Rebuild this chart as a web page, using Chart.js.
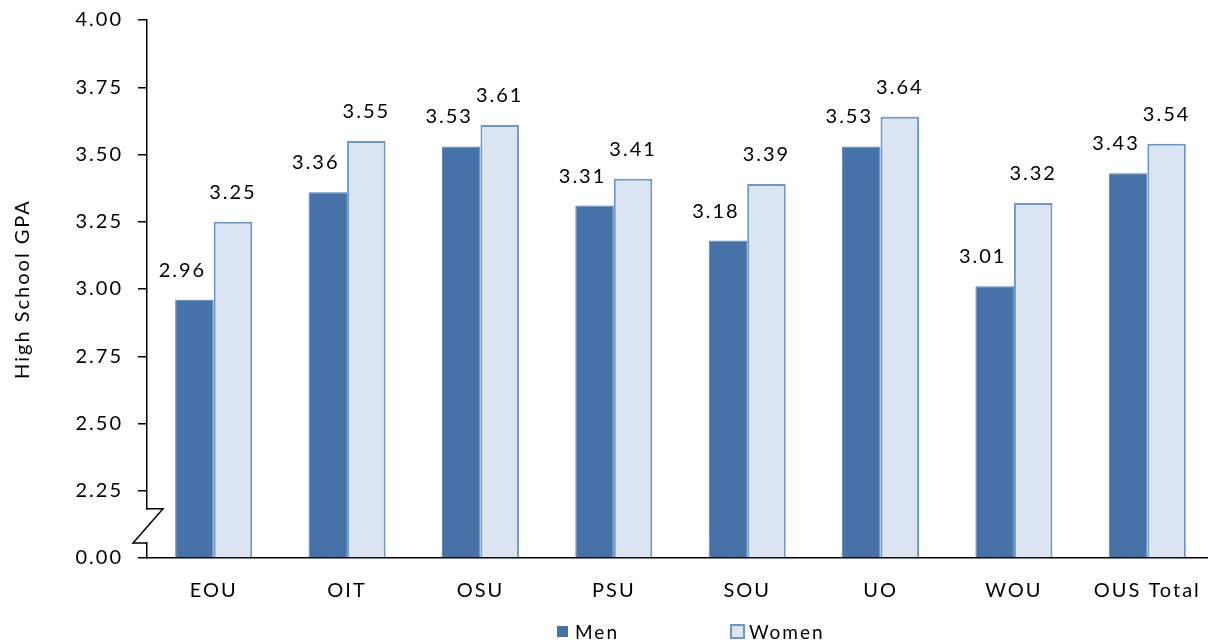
<!DOCTYPE html>
<html lang="en">
<head>
<meta charset="UTF-8">
<title>High School GPA by Institution</title>
<script src="https://cdn.jsdelivr.net/npm/chart.js@4.4.1/dist/chart.umd.min.js"></script>
<style>
	body { margin: 0; overflow: hidden; background: #fff; }
	#wrap { position: relative; width: 1214px; height: 643px; }
</style>
</head>
<body>
<div id="wrap"><canvas id="gpaChart"></canvas></div>
<script>
	// chart data
	var schools = ["EOU", "OIT", "OSU", "PSU", "SOU", "UO", "WOU", "OUS Total"];
	var menGPA = [2.96, 3.36, 3.53, 3.31, 3.18, 3.53, 3.01, 3.43];
	var womenGPA = [3.25, 3.55, 3.61, 3.41, 3.39, 3.64, 3.32, 3.54];
	// axis is broken: the bottom tick stands for 0.00
	var yTickLabels = ["0.00", "2.25", "2.50", "2.75", "3.00", "3.25", "3.50", "3.75", "4.00"];
	var seriesNames = ["Men", "Women"];

	var FONT = "Lato";
	var MEN_FILL = "#4672a8";
	var WOMEN_FILL = "#dbe5f1";
	var WOMEN_EDGE = "#6d97c9";

	// canvas letter spacing, to get the wide look of the original text
	var spacingPlugin = {
		id: "spacing",
		beforeUpdate: function (chart) { chart.ctx.letterSpacing = "2px"; },
		beforeDraw: function (chart) { chart.ctx.letterSpacing = "2px"; }
	};

	var valueLabels = {
		id: "valueLabels",
		afterDatasetsDraw: function (chart) {
			var ctx = chart.ctx;
			ctx.save();
			ctx.font = "20px " + FONT;
			ctx.fillStyle = "#000";
			ctx.textAlign = "center";
			ctx.textBaseline = "alphabetic";
			chart.data.datasets.forEach(function (ds, di) {
				var meta = chart.getDatasetMeta(di);
				meta.data.forEach(function (bar, i) {
					var shift = di == 0 ? -12 : 0;
					ctx.fillText(ds.data[i].toFixed(2), bar.x + shift, bar.y - 23);
				});
			});
			ctx.restore();
		}
	};

	var axisBreak = {
		id: "axisBreak",
		afterDraw: function (chart) {
			var ctx = chart.ctx;
			var y = chart.scales.y;
			var x0 = chart.chartArea.left;
			var yTop = y.getPixelForValue(2.183);
			var yBot = y.getPixelForValue(2.056);
			ctx.save();
			ctx.fillStyle = "#fff";
			ctx.fillRect(x0 - 3, yTop + 1, 6, yBot - yTop - 2);
			ctx.strokeStyle = "#000";
			ctx.lineWidth = 1.5;
			ctx.beginPath();
			ctx.moveTo(x0, yTop);
			ctx.lineTo(x0 + 16, yTop);
			ctx.lineTo(x0 - 14, yBot);
			ctx.lineTo(x0, yBot);
			ctx.stroke();
			ctx.restore();
		}
	};

	var bottomLegend = {
		id: "bottomLegend",
		afterDraw: function (chart) {
			var ctx = chart.ctx;
			ctx.save();
			ctx.font = "19px " + FONT;
			ctx.textBaseline = "alphabetic";
			// Men
			ctx.fillStyle = MEN_FILL;
			ctx.fillRect(557, 626, 11, 11);
			ctx.fillStyle = "#000";
			ctx.fillText(seriesNames[0], 575, 639);
			// Women
			ctx.fillStyle = WOMEN_FILL;
			ctx.fillRect(731, 625, 13, 13);
			ctx.strokeStyle = WOMEN_EDGE;
			ctx.lineWidth = 2;
			ctx.strokeRect(731, 625, 13, 13);
			ctx.fillStyle = "#000";
			ctx.fillText(seriesNames[1], 749, 639);
			ctx.restore();
		}
	};

	new Chart(document.getElementById("gpaChart"), {
		type: "bar",
		data: {
			labels: schools,
			datasets: [
				{
					label: seriesNames[0],
					data: menGPA,
					base: 2,
					backgroundColor: MEN_FILL,
					borderColor: "#4f7fb9",
					borderWidth: 1,
					categoryPercentage: 0.5775,
					barPercentage: 1.0
				},
				{
					label: seriesNames[1],
					data: womenGPA,
					base: 2,
					backgroundColor: WOMEN_FILL,
					borderColor: WOMEN_EDGE,
					borderWidth: 2,
					categoryPercentage: 0.5775,
					barPercentage: 1.0
				}
			]
		},
		options: {
			responsive: true,
			maintainAspectRatio: false,
			animation: false,
			layout: { padding: { left: 0, right: 0, top: 20, bottom: 19 } },
			plugins: {
				legend: { display: false },
				tooltip: { enabled: false }
			},
			scales: {
				x: {
					afterFit: function (scale) { scale.paddingLeft = 0; scale.paddingRight = 0; },
					grid: { display: false, drawTicks: false },
					border: { display: true, color: "#000", width: 1.5 },
					ticks: {
						color: "#000",
						font: { family: FONT, size: 20 },
						padding: 21,
						autoSkip: false,
						maxRotation: 0
					}
				},
				y: {
					min: 2,
					max: 4,
					afterFit: function (scale) {
						scale.width = 147;
						scale.paddingTop = 0;
						scale.paddingBottom = 0;
					},
					grid: { drawOnChartArea: false, drawTicks: true, tickLength: 9, color: "#000", lineWidth: 1.5 },
					border: { display: true, color: "#000", width: 1.5 },
					ticks: {
						stepSize: 0.25,
						color: "#000",
						font: { family: FONT, size: 20 },
						padding: 15,
						callback: function (value, index) { return yTickLabels[index]; }
					},
					title: {
						display: true,
						text: "High School GPA",
						color: "#000",
						font: { family: FONT, size: 20 },
						padding: { top: 11, bottom: 0 }
					}
				}
			}
		},
		plugins: [spacingPlugin, valueLabels, axisBreak, bottomLegend]
	});
</script>
</body>
</html>
